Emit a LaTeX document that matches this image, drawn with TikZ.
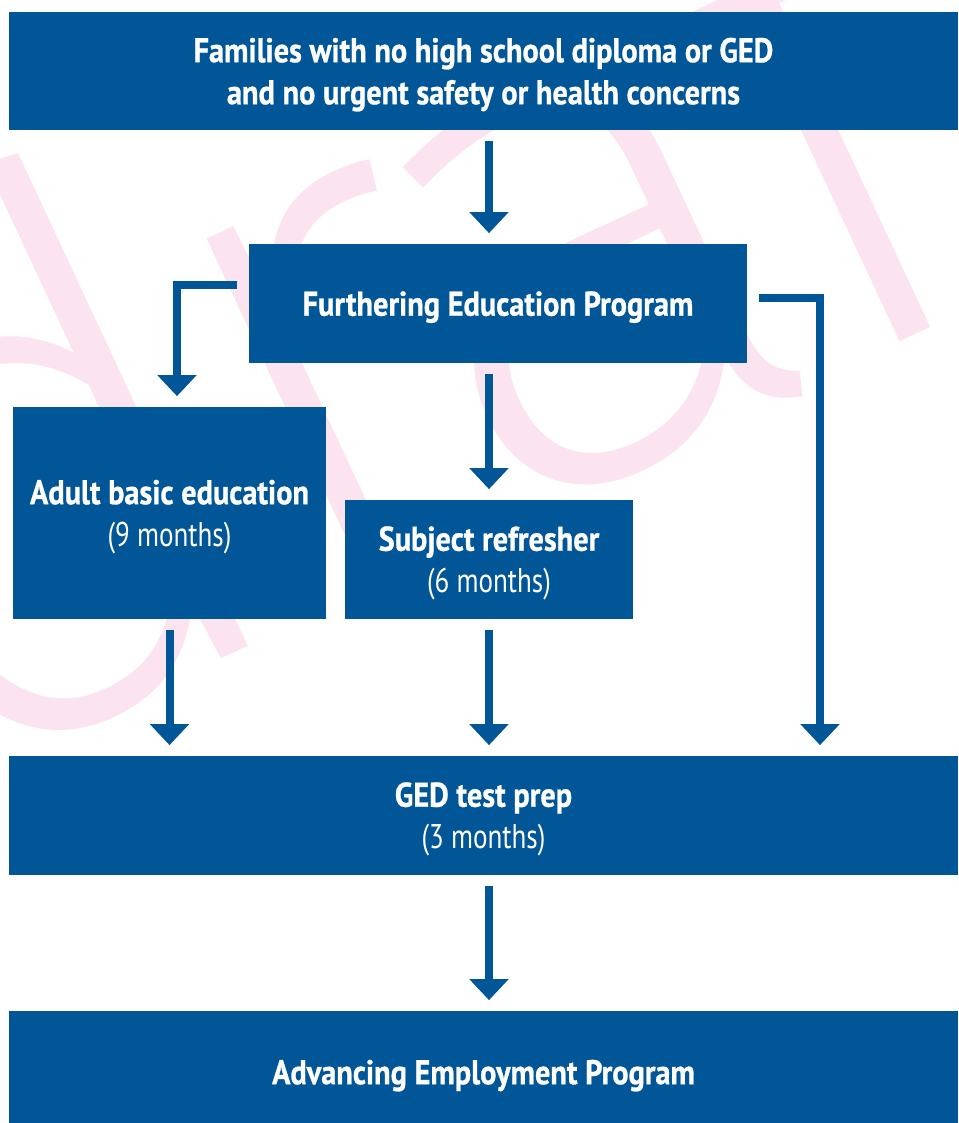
\documentclass[tikz,border=0pt]{standalone}
\usepackage{fontspec}
\setmainfont{PT Sans}[UprightFeatures={FakeStretch=0.79},
    BoldFeatures={FakeStretch=0.885, FakeBold=0.8}]
\newfontfamily\wmfont{Fira Sans ExtraLight}[LetterSpace=-4]
\usetikzlibrary{arrows.meta,calc,positioning}
\definecolor{flowblue}{RGB}{0,86,151}
\definecolor{wmpink}{RGB}{251,228,240}
\tikzset{
    box/.style args={#1/#2}{fill=flowblue, text=white, minimum width=#1, minimum height=#2,
        align=center, inner sep=0pt, text depth=0pt, font=\fontsize{19.5}{23.9}\selectfont\bfseries},
    flow/.style={draw=flowblue, line width=0.16cm, -{Triangle[width=0.76cm,length=0.42cm]},
        shorten <=0.21cm, shorten >=0.21cm}
}

\begin{document}
\begin{tikzpicture}
\useasboundingbox (0,0) rectangle (19.16,-22.46);
% watermark behind everything
\begin{scope}
\clip (0,0) rectangle (19.16,-22.46);
\node[text=wmpink, font=\wmfont\fontsize{421}{421}\selectfont, rotate=25, anchor=base west, inner sep=0pt] (watermark) at (-1.35,-15.87) {draft};
\end{scope}

\node[box={18.98cm/2.36cm}] (families) at (9.67,-1.42) {Families with no high school diploma or GED\\and no urgent safety or health concerns};
\node[box={9.96cm/2.38cm}] (furthering) at (9.96,-6.07) {Furthering Education Program};
\node[box={6.26cm/4.24cm}] (adult) at (3.39,-10.26) {Adult basic education\\{\mdseries(9 months)}};
\node[box={5.76cm/2.38cm}] (refresher) at (9.78,-11.19) {Subject refresher\\{\mdseries(6 months)}};
\node[box={18.98cm/2.38cm}] (gedprep) at (9.67,-16.31) {GED test prep\\{\mdseries(3 months)}};
\node[box={18.98cm/2.44cm}] (employment) at (9.67,-21.44) {Advancing Employment Program};

\coordinate (spine) at (9.78,0);
\coordinate (bypass) at (16.40,0);

\draw[flow] (families.south -| spine) -- (furthering.north -| spine);
\draw[flow] (furthering.south -| spine) -- (refresher.north);
\foreach \src in {adult, refresher} {
    \draw[flow] (\src.south) -- (\src.south |- gedprep.north);
}
\draw[flow] (gedprep.south -| spine) -- (employment.north -| spine);

% side branches out of the programme box
\draw[flow, shorten <=0pt] ([shift={(-0.24,0.37)}]furthering.west) -| ([xshift=0.15cm]adult.north);
\draw[flow, shorten <=0pt] ([shift={(0.24,0.11)}]furthering.east) -| (gedprep.north -| bypass);
\end{tikzpicture}
\end{document}
